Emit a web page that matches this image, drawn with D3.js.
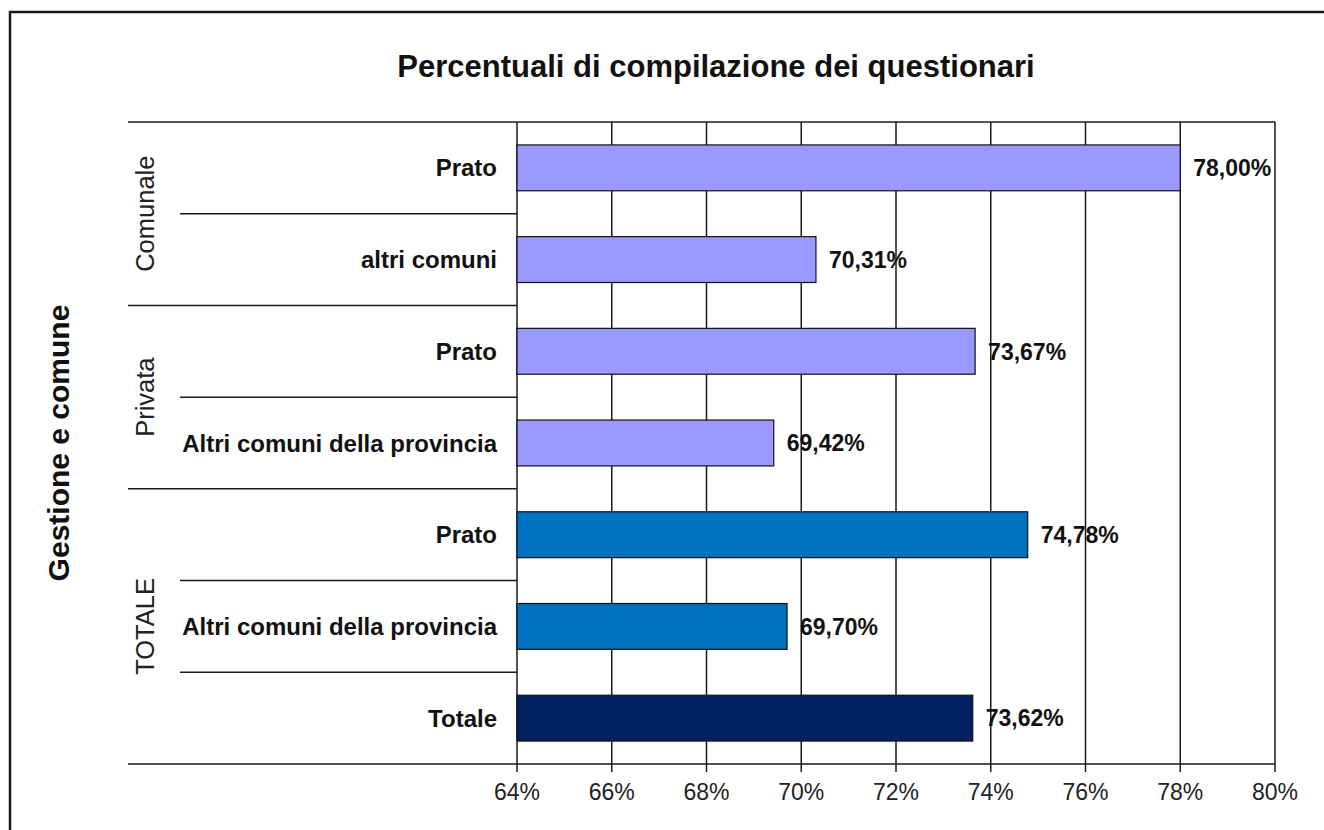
<!DOCTYPE html>
<html lang="en">
<head>
    <meta charset="UTF-8">
    <title>Percentuali di compilazione dei questionari</title>
    <script src="https://d3js.org/d3.v7.min.js"></script>
    <style>
        body { margin: 0; background: #fff; }
        svg { font-family: "Liberation Sans", Arial, sans-serif; }
        .grid line { stroke: #1a1a1a; stroke-width: 1.5; }
        .sep { stroke: #1a1a1a; stroke-width: 1.5; }
    </style>
</head>
<body>
    <script>
        // data
        const groups = ['Comunale', 'Privata', 'TOTALE'];
        const groupOf = [0, 0, 1, 1, 2, 2, 2];
        const categories = ['Prato', 'altri comuni', 'Prato', 'Altri comuni della provincia',
                            'Prato', 'Altri comuni della provincia', 'Totale'];
        const values = [78.00, 70.31, 73.67, 69.42, 74.78, 69.70, 73.62];
        const barColors = ['#9999ff', '#9999ff', '#9999ff', '#9999ff', '#0070c0', '#0070c0', '#002060'];
        const tickValues = [64, 66, 68, 70, 72, 74, 76, 78, 80];

        const W = 1324, H = 830;
        const plot = {left: 517, right: 1275, top: 122, bottom: 764};
        const catLeft = 128, innerLeft = 180;

        const svg = d3.select('body').append('svg')
            .attr('width', W)
            .attr('height', H);

        // outer frame (runs off the right and bottom edges)
        svg.append('rect')
            .attr('x', 10).attr('y', 12)
            .attr('width', 1500).attr('height', 1000)
            .attr('fill', 'none')
            .attr('stroke', '#1a1a1a')
            .attr('stroke-width', 2.5);

        const x = d3.scaleLinear()
            .domain([64, 80])
            .range([plot.left, plot.right]);

        const y = d3.scaleBand()
            .domain(d3.range(categories.length))
            .range([plot.top, plot.bottom])
            .paddingInner(0.5)
            .paddingOuter(0.25);

        // title
        svg.append('text')
            .attr('x', 716).attr('y', 77)
            .attr('text-anchor', 'middle')
            .style('font-size', '31px')
            .style('font-weight', 'bold')
            .attr('fill', '#111')
            .text('Percentuali di compilazione dei questionari');

        // vertical gridlines + ticks
        const grid = svg.append('g').attr('class', 'grid');
        grid.selectAll('line')
            .data(tickValues)
            .enter().append('line')
            .attr('x1', d => x(d)).attr('x2', d => x(d))
            .attr('y1', plot.top).attr('y2', plot.bottom + 8);

        // x axis line + plot top line
        svg.append('line').attr('class', 'sep')
            .attr('x1', catLeft).attr('x2', plot.right)
            .attr('y1', plot.bottom).attr('y2', plot.bottom);
        svg.append('line').attr('class', 'sep')
            .attr('x1', catLeft).attr('x2', plot.right)
            .attr('y1', plot.top).attr('y2', plot.top);

        // tick labels
        svg.append('g').selectAll('text')
            .data(tickValues)
            .enter().append('text')
            .attr('x', d => x(d))
            .attr('y', plot.bottom + 36)
            .attr('text-anchor', 'middle')
            .style('font-size', '23px')
            .attr('fill', '#222')
            .text(d => d + '%');

        // category separators
        const step = y.step();
        const seps = d3.range(categories.length - 1);
        svg.append('g').selectAll('line')
            .data(seps)
            .enter().append('line')
            .attr('class', 'sep')
            .attr('x1', i => groupOf[i] !== groupOf[i + 1] ? catLeft : innerLeft)
            .attr('x2', plot.left)
            .attr('y1', i => plot.top + (i + 1) * step)
            .attr('y2', i => plot.top + (i + 1) * step);

        // bars
        svg.append('g').selectAll('rect')
            .data(values)
            .enter().append('rect')
            .attr('x', x(64))
            .attr('y', (d, i) => y(i))
            .attr('width', d => x(d) - x(64))
            .attr('height', y.bandwidth())
            .attr('fill', (d, i) => barColors[i])
            .attr('stroke', '#111')
            .attr('stroke-width', 1.2);

        // value labels
        const fmt = d => d3.format('.2f')(d).replace('.', ',') + '%';
        svg.append('g').selectAll('text')
            .data(values)
            .enter().append('text')
            .attr('x', d => x(d) + 13)
            .attr('y', (d, i) => y(i) + y.bandwidth() / 2)
            .attr('dy', '0.36em')
            .style('font-size', '23px')
            .style('font-weight', 'bold')
            .attr('fill', '#111')
            .text(fmt);

        // category labels
        svg.append('g').selectAll('text')
            .data(categories)
            .enter().append('text')
            .attr('x', 497)
            .attr('y', (d, i) => y(i) + y.bandwidth() / 2)
            .attr('dy', '0.36em')
            .attr('text-anchor', 'end')
            .style('font-size', '24px')
            .style('font-weight', 'bold')
            .attr('fill', '#111')
            .text(d => d);

        // group labels (rotated)
        svg.append('g').selectAll('text')
            .data(groups)
            .enter().append('text')
            .attr('transform', (g, gi) => {
                const idx = groupOf.map((v, i) => v === gi ? i : -1).filter(i => i >= 0);
                const y0 = plot.top + idx[0] * step;
                const y1 = plot.top + (idx[idx.length - 1] + 1) * step;
                return `translate(145,${(y0 + y1) / 2}) rotate(-90)`;
            })
            .attr('dy', '0.36em')
            .attr('text-anchor', 'middle')
            .style('font-size', '25.5px')
            .attr('fill', '#222')
            .text(d => d);

        // y axis title
        svg.append('text')
            .attr('transform', `translate(58,${(plot.top + plot.bottom) / 2}) rotate(-90)`)
            .attr('dy', '0.36em')
            .attr('text-anchor', 'middle')
            .style('font-size', '30px')
            .style('font-weight', 'bold')
            .attr('fill', '#111')
            .text('Gestione e comune');
    </script>
</body>
</html>
